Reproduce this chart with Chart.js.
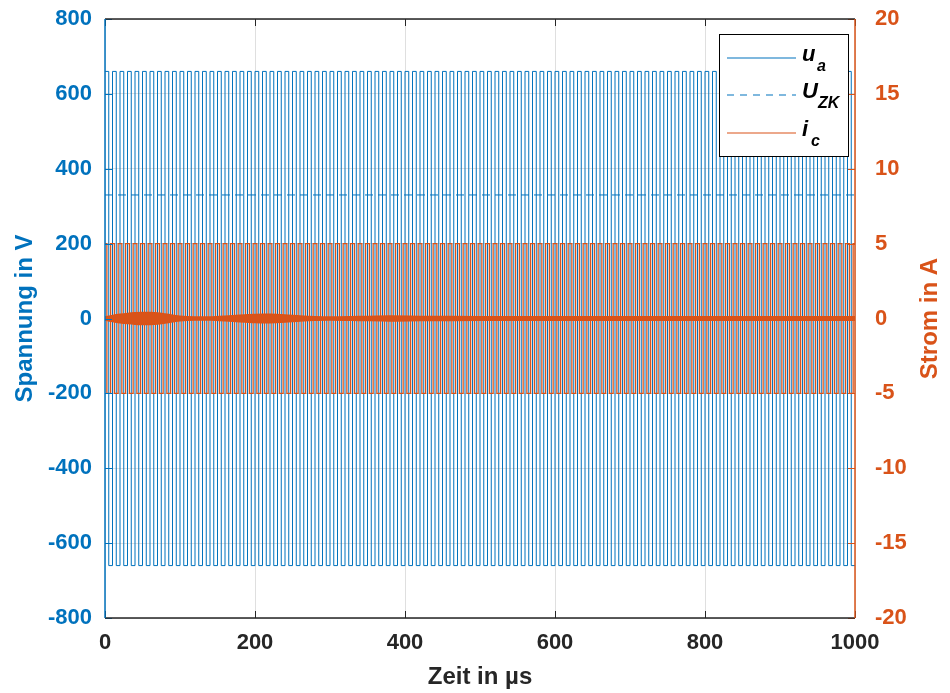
<!DOCTYPE html>
<html lang="de">
  <head>
    <meta charset="UTF-8" />
    <title>Spannung und Strom</title>
    <script src="https://cdn.jsdelivr.net/npm/chart.js"></script>
    <style>
      body {
        margin: 0;
        background: #ffffff;
      }
      #chart {
        display: block;
      }
    </style>
  </head>
  <body>
    <canvas id="chart" width="950" height="693"></canvas>

    <script>
      // DATA
      const tEnd = 1000; // µs
      const halfPeriod = 5; // µs, u_a switches every 5 µs (100 kHz)
      const uaLevels = [660, -660]; // V
      const uZK = 330; // V
      const icLevels = [-5, 5]; // A
      const icShift = 2.5; // µs, i_c edges sit between u_a edges

      // slow envelope of the thick i_c band around 0 A
      const bandTimes = [0, 10, 20, 30, 40, 50, 60, 70, 80, 90, 100, 120, 140, 160, 180, 200, 220, 240, 260, 280, 300, 340, 380, 420, 500, 600, 700, 800, 900, 1000];
      const bandHalf = [0.1, 0.2, 0.28, 0.34, 0.38, 0.4, 0.4, 0.37, 0.3, 0.22, 0.15, 0.1, 0.1, 0.15, 0.22, 0.27, 0.28, 0.24, 0.17, 0.12, 0.1, 0.13, 0.16, 0.14, 0.12, 0.12, 0.12, 0.12, 0.12, 0.12];

      const xTicks = [0, 200, 400, 600, 800, 1000];

      const blue = "#0072BD";
      const orange = "#D95319";
      const dark = "#262626";
      const fontFam = "'Liberation Sans', Arial, sans-serif";

      // square waves, one point per switching instant (stepped line)
      function squareWave(levels, start) {
        const pts = [];
        let k = 0;
        if (start > 0) {
          pts.push({ x: 0, y: levels[1] });
        }
        for (let t = start; t < tEnd; t += halfPeriod) {
          pts.push({ x: t, y: levels[k % 2] });
          k++;
        }
        pts.push({ x: tEnd, y: pts[pts.length - 1].y });
        return pts;
      }

      const uaData = squareWave(uaLevels, 0);
      const icData = squareWave(icLevels, icShift);
      const uzkData = [
        { x: 0, y: uZK },
        { x: tEnd, y: uZK },
      ];
      const bandUpper = bandTimes.map((t, i) => ({ x: t, y: bandHalf[i] }));
      const bandLower = bandTimes.map((t, i) => ({ x: t, y: -bandHalf[i] }));

      // fixed plot box like the MATLAB figure
      function noPad(s) {
        s.paddingTop = 0;
        s.paddingBottom = 0;
        s.paddingLeft = 0;
        s.paddingRight = 0;
      }

      // box, inward ticks, axis titles and legend in MATLAB style
      const matlabDeco = {
        id: "matlabDeco",
        afterDraw(chart) {
          const ctx = chart.ctx;
          const a = chart.chartArea;
          const sx = chart.scales.x;
          const sy = chart.scales.y;
          const sy1 = chart.scales.y1;
          const tl = 7;
          ctx.save();
          ctx.lineWidth = 1;

          // inward ticks
          ctx.strokeStyle = dark;
          ctx.beginPath();
          sx.ticks.forEach((tk) => {
            const px = Math.round(sx.getPixelForValue(tk.value)) + 0.5;
            ctx.moveTo(px, a.bottom);
            ctx.lineTo(px, a.bottom - tl);
            ctx.moveTo(px, a.top);
            ctx.lineTo(px, a.top + tl);
          });
          ctx.stroke();
          ctx.strokeStyle = blue;
          ctx.beginPath();
          sy.ticks.forEach((tk) => {
            const py = Math.round(sy.getPixelForValue(tk.value)) + 0.5;
            ctx.moveTo(a.left, py);
            ctx.lineTo(a.left + tl, py);
          });
          ctx.stroke();
          ctx.strokeStyle = orange;
          ctx.beginPath();
          sy1.ticks.forEach((tk) => {
            const py = Math.round(sy1.getPixelForValue(tk.value)) + 0.5;
            ctx.moveTo(a.right, py);
            ctx.lineTo(a.right - tl, py);
          });
          ctx.stroke();

          // box lines
          ctx.lineWidth = 1.5;
          ctx.strokeStyle = dark;
          ctx.beginPath();
          ctx.moveTo(a.left, a.top);
          ctx.lineTo(a.right, a.top);
          ctx.moveTo(a.left, a.bottom);
          ctx.lineTo(a.right, a.bottom);
          ctx.stroke();
          ctx.strokeStyle = blue;
          ctx.beginPath();
          ctx.moveTo(a.left, a.top);
          ctx.lineTo(a.left, a.bottom);
          ctx.stroke();
          ctx.strokeStyle = orange;
          ctx.beginPath();
          ctx.moveTo(a.right, a.top);
          ctx.lineTo(a.right, a.bottom);
          ctx.stroke();

          // axis titles
          ctx.font = "bold 24px " + fontFam;
          ctx.textAlign = "center";
          ctx.textBaseline = "middle";
          ctx.fillStyle = dark;
          ctx.fillText("Zeit in µs", (a.left + a.right) / 2, 677);
          ctx.save();
          ctx.translate(25, (a.top + a.bottom) / 2);
          ctx.rotate(-Math.PI / 2);
          ctx.fillStyle = blue;
          ctx.fillText("Spannung in V", 0, 0);
          ctx.restore();
          ctx.save();
          ctx.translate(930, (a.top + a.bottom) / 2);
          ctx.rotate(-Math.PI / 2);
          ctx.fillStyle = orange;
          ctx.fillText("Strom in A", 0, 0);
          ctx.restore();

          // legend
          const lx = 719, ly = 34, lw = 129, lh = 122;
          ctx.fillStyle = "#ffffff";
          ctx.fillRect(lx, ly, lw, lh);
          ctx.lineWidth = 1;
          ctx.strokeStyle = "#000000";
          ctx.strokeRect(lx + 0.5, ly + 0.5, lw, lh);

          const entries = [
            { main: "u", sub: "a", y: 58, color: blue, dash: [], subDx: 15 },
            { main: "U", sub: "ZK", y: 95, color: blue, dash: [7, 6], subDx: 16 },
            { main: "i", sub: "c", y: 133, color: orange, dash: [], subDx: 9 },
          ];
          entries.forEach((e) => {
            ctx.save();
            ctx.strokeStyle = e.color;
            ctx.lineWidth = 1.2;
            ctx.setLineDash(e.dash);
            ctx.beginPath();
            ctx.moveTo(727, e.y);
            ctx.lineTo(796, e.y);
            ctx.stroke();
            ctx.restore();
            ctx.fillStyle = "#000000";
            ctx.textAlign = "left";
            ctx.textBaseline = "alphabetic";
            ctx.font = "italic bold 22px " + fontFam;
            ctx.fillText(e.main, 802, e.y + 3);
            ctx.font = "italic bold 16px " + fontFam;
            ctx.fillText(e.sub, 802 + e.subDx, e.y + 13);
          });

          ctx.restore();
        },
      };

      const tickFont = { family: fontFam, size: 22, weight: "bold" };

      new Chart(document.getElementById("chart"), {
        type: "line",
        data: {
          datasets: [
            {
              label: "u_a",
              data: uaData,
              yAxisID: "y",
              order: 5,
              borderColor: blue,
              borderWidth: 1,
              stepped: true,
              pointRadius: 0,
            },
            {
              label: "U_ZK",
              data: uzkData,
              yAxisID: "y",
              order: 4,
              borderColor: blue,
              borderWidth: 1,
              borderDash: [8, 5],
              pointRadius: 0,
            },
            {
              label: "i_c",
              data: icData,
              yAxisID: "y1",
              order: 3,
              borderColor: orange,
              borderWidth: 1.3,
              stepped: true,
              pointRadius: 0,
            },
            {
              label: "i_c band upper",
              data: bandUpper,
              yAxisID: "y1",
              order: 2,
              borderColor: orange,
              borderWidth: 1.5,
              pointRadius: 0,
              tension: 0.3,
              fill: false,
            },
            {
              label: "i_c band lower",
              data: bandLower,
              yAxisID: "y1",
              order: 1,
              borderColor: orange,
              backgroundColor: orange,
              borderWidth: 1.5,
              pointRadius: 0,
              tension: 0.3,
              fill: "-1",
            },
          ],
        },
        options: {
          responsive: false,
          animation: false,
          parsing: false,
          layout: { autoPadding: false, padding: { top: 19, left: 0, right: 0, bottom: 0 } },
          plugins: {
            legend: { display: false },
            tooltip: { enabled: false },
          },
          scales: {
            x: {
              type: "linear",
              min: 0,
              max: tEnd,
              afterFit: (s) => {
                s.height = 75;
                noPad(s);
              },
              afterBuildTicks: (s) => {
                s.ticks = xTicks.map((v) => ({ value: v }));
              },
              ticks: {
                color: dark,
                font: tickFont,
                padding: 12,
                maxRotation: 0,
                callback: (v) => String(v),
              },
              grid: {
                color: "rgba(38,38,38,0.15)",
                drawTicks: false,
              },
              border: { display: false },
            },
            y: {
              type: "linear",
              position: "left",
              min: -800,
              max: 800,
              afterFit: (s) => {
                s.width = 105;
                noPad(s);
              },
              ticks: {
                stepSize: 200,
                color: blue,
                font: tickFont,
                padding: 13,
              },
              grid: {
                color: "rgba(38,38,38,0.15)",
                drawTicks: false,
              },
              border: { display: false },
            },
            y1: {
              type: "linear",
              position: "right",
              min: -20,
              max: 20,
              afterFit: (s) => {
                s.width = 95;
                noPad(s);
              },
              ticks: {
                stepSize: 5,
                color: orange,
                font: tickFont,
                padding: 20,
              },
              grid: {
                drawOnChartArea: false,
                drawTicks: false,
              },
              border: { display: false },
            },
          },
        },
        plugins: [matlabDeco],
      });
    </script>
  </body>
</html>
